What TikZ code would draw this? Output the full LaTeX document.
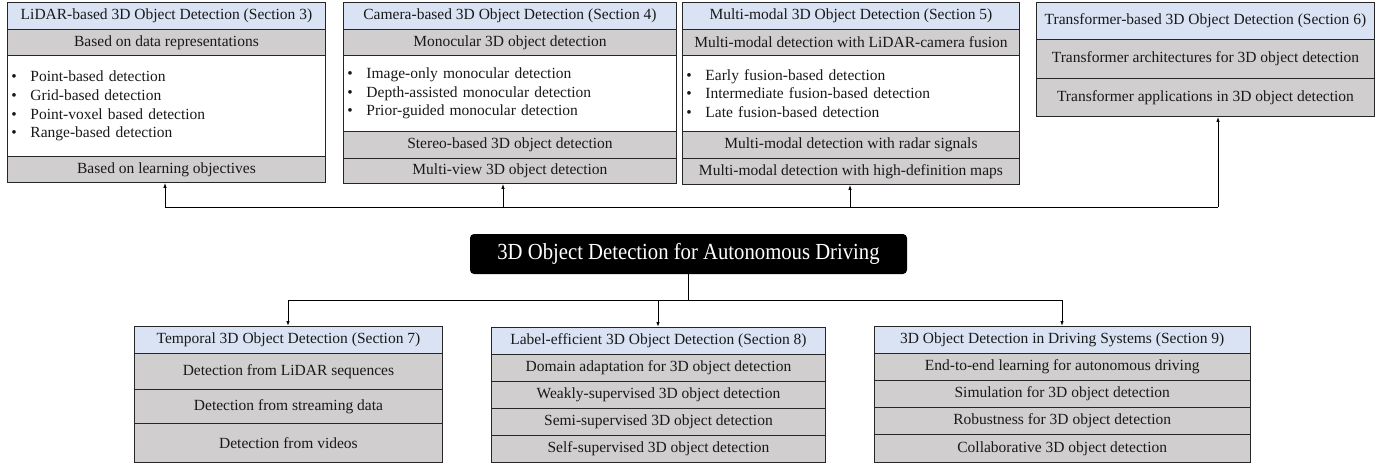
\documentclass[tikz,border=0pt]{standalone}
\usepackage{fontspec}
\setmainfont{Liberation Serif}
\usetikzlibrary{arrows.meta}
\definecolor{hdrblue}{HTML}{DAE3F3}
\definecolor{subgray}{HTML}{D0CECE}
\definecolor{edge}{HTML}{262626}

\tikzset{
  cell/.style={draw=edge, line width=0.9pt, anchor=north west, inner sep=0pt,
    font=\fontsize{15.5}{18.7}\selectfont, text=black!90},
  hdr/.style={cell, fill=hdrblue},
  sub/.style={cell, fill=subgray},
  lst/.style={cell, fill=white, align=left, inner xsep=4pt},
  root/.style={fill=black, text=white, rounded corners=4pt, inner sep=0pt,
    font=\fontsize{23}{23}\selectfont},
  link/.style={draw=black, line width=0.9pt},
  tip/.style={link, -{Latex[length=5pt,width=3.5pt]}},
}
\newcommand{\bitem}[1]{\makebox[19pt][l]{\textbullet}#1}

\begin{document}
\begin{tikzpicture}[x=1pt, y=-1pt]
\useasboundingbox (0,0) rectangle (1394,465);

% ---------- LiDAR-based ----------
\node[hdr, minimum width=318pt, minimum height=27pt] (l0) at (7,2)
  {LiDAR-based 3D Object Detection (Section 3)};
\node[sub, minimum width=318pt, minimum height=26pt] (l1) at (7,29)
  {Based on data representations};
\node[lst, text width=310pt, minimum height=101pt] (l2) at (7,55)
  {\bitem{Point-based detection}\\ \bitem{Grid-based detection}\\
   \bitem{Point-voxel based detection}\\ \bitem{Range-based detection}};
\node[sub, minimum width=318pt, minimum height=26pt] (l3) at (7,156)
  {Based on learning objectives};

% ---------- Camera-based ----------
\node[hdr, minimum width=333pt, minimum height=27pt] (c0) at (343,2)
  {Camera-based 3D Object Detection (Section 4)};
\node[sub, minimum width=333pt, minimum height=26pt] (c1) at (343,29)
  {Monocular 3D object detection};
\node[lst, text width=325pt, minimum height=76pt] (c2) at (343,55)
  {\bitem{Image-only monocular detection}\\ \bitem{Depth-assisted monocular detection}\\
   \bitem{Prior-guided monocular detection}};
\node[sub, minimum width=333pt, minimum height=27pt] (c3) at (343,131)
  {Stereo-based 3D object detection};
\node[sub, minimum width=333pt, minimum height=25pt] (c4) at (343,158)
  {Multi-view 3D object detection};

% ---------- Multi-modal ----------
\node[hdr, minimum width=337pt, minimum height=27pt] (m0) at (682,2)
  {Multi-modal 3D Object Detection (Section 5)};
\node[sub, minimum width=337pt, minimum height=26pt] (m1) at (682,29)
  {Multi-modal detection with LiDAR-camera fusion};
\node[lst, text width=329pt, minimum height=76pt] (m2) at (682,55)
  {\bitem{Early fusion-based detection}\\ \bitem{Intermediate fusion-based detection}\\
   \bitem{Late fusion-based detection}};
\node[sub, minimum width=337pt, minimum height=27pt] (m3) at (682,131)
  {Multi-modal detection with radar signals};
\node[sub, minimum width=337pt, minimum height=26pt] (m4) at (682,158)
  {Multi-modal detection with high-definition maps};

% ---------- Transformer-based ----------
\node[hdr, minimum width=338pt, minimum height=37pt] (t0) at (1036,2)
  {Transformer-based 3D Object Detection (Section 6)};
\node[sub, minimum width=338pt, minimum height=39pt] (t1) at (1036,39)
  {Transformer architectures for 3D object detection};
\node[sub, minimum width=338pt, minimum height=38pt] (t2) at (1036,78)
  {Transformer applications in 3D object detection};

% ---------- Root ----------
\node[root, minimum width=437pt, minimum height=40pt] (root) at (688.5,254)
  {\scalebox{0.9}[1]{3D Object Detection for Autonomous Driving}};

% ---------- Temporal ----------
\node[hdr, minimum width=308pt, minimum height=27pt] (p0) at (134,326)
  {Temporal 3D Object Detection (Section 7)};
\node[sub, minimum width=308pt, minimum height=36pt] (p1) at (134,353)
  {Detection from LiDAR sequences};
\node[sub, minimum width=308pt, minimum height=34pt] (p2) at (134,389)
  {Detection from streaming data};
\node[sub, minimum width=308pt, minimum height=39pt] (p3) at (134,423)
  {Detection from videos};

% ---------- Label-efficient ----------
\node[hdr, minimum width=334pt, minimum height=27pt] (e0) at (491,327)
  {Label-efficient 3D Object Detection (Section 8)};
\node[sub, minimum width=334pt, minimum height=27pt] (e1) at (491,354)
  {Domain adaptation for 3D object detection};
\node[sub, minimum width=334pt, minimum height=27pt] (e2) at (491,381)
  {Weakly-supervised 3D object detection};
\node[sub, minimum width=334pt, minimum height=27pt] (e3) at (491,408)
  {Semi-supervised 3D object detection};
\node[sub, minimum width=334pt, minimum height=27pt] (e4) at (491,435)
  {Self-supervised 3D object detection};

% ---------- Driving systems ----------
\node[hdr, minimum width=376.5pt, minimum height=27pt] (d0) at (873.5,326)
  {3D Object Detection in Driving Systems (Section 9)};
\node[sub, minimum width=376.5pt, minimum height=27pt] (d1) at (873.5,353)
  {End-to-end learning for autonomous driving};
\node[sub, minimum width=376.5pt, minimum height=27pt] (d2) at (873.5,380)
  {Simulation for 3D object detection};
\node[sub, minimum width=376.5pt, minimum height=27pt] (d3) at (873.5,407)
  {Robustness for 3D object detection};
\node[sub, minimum width=376.5pt, minimum height=28pt] (d4) at (873.5,434)
  {Collaborative 3D object detection};

% ---------- Upper bus: arrows up to sections 3--6 ----------
\coordinate (ua) at (165,207);
\coordinate (ub) at (503,207);
\coordinate (uc) at (850,207);
\coordinate (ud) at (1218,207);
\draw[link] (ua) -- (ud);
\draw[tip] (ua) -- (ua |- l3.south);
\draw[tip] (ub) -- (ub |- c4.south);
\draw[tip] (uc) -- (uc |- m4.south);
\draw[tip] (ud) -- (ud |- t2.south);

% ---------- Lower bus: arrows down to sections 7--9 ----------
\coordinate (bj) at (688,300);
\coordinate (ba) at (288,300);
\coordinate (bb) at (658,300);
\coordinate (bc) at (1062,300);
\draw[link] (root.south -| bj) -- (bj);
\draw[link] (ba) -- (bc);
\draw[tip] (ba) -- (ba |- p0.north);
\draw[tip] (bb) -- (bb |- e0.north);
\draw[tip] (bc) -- (bc |- d0.north);
\end{tikzpicture}
\end{document}
